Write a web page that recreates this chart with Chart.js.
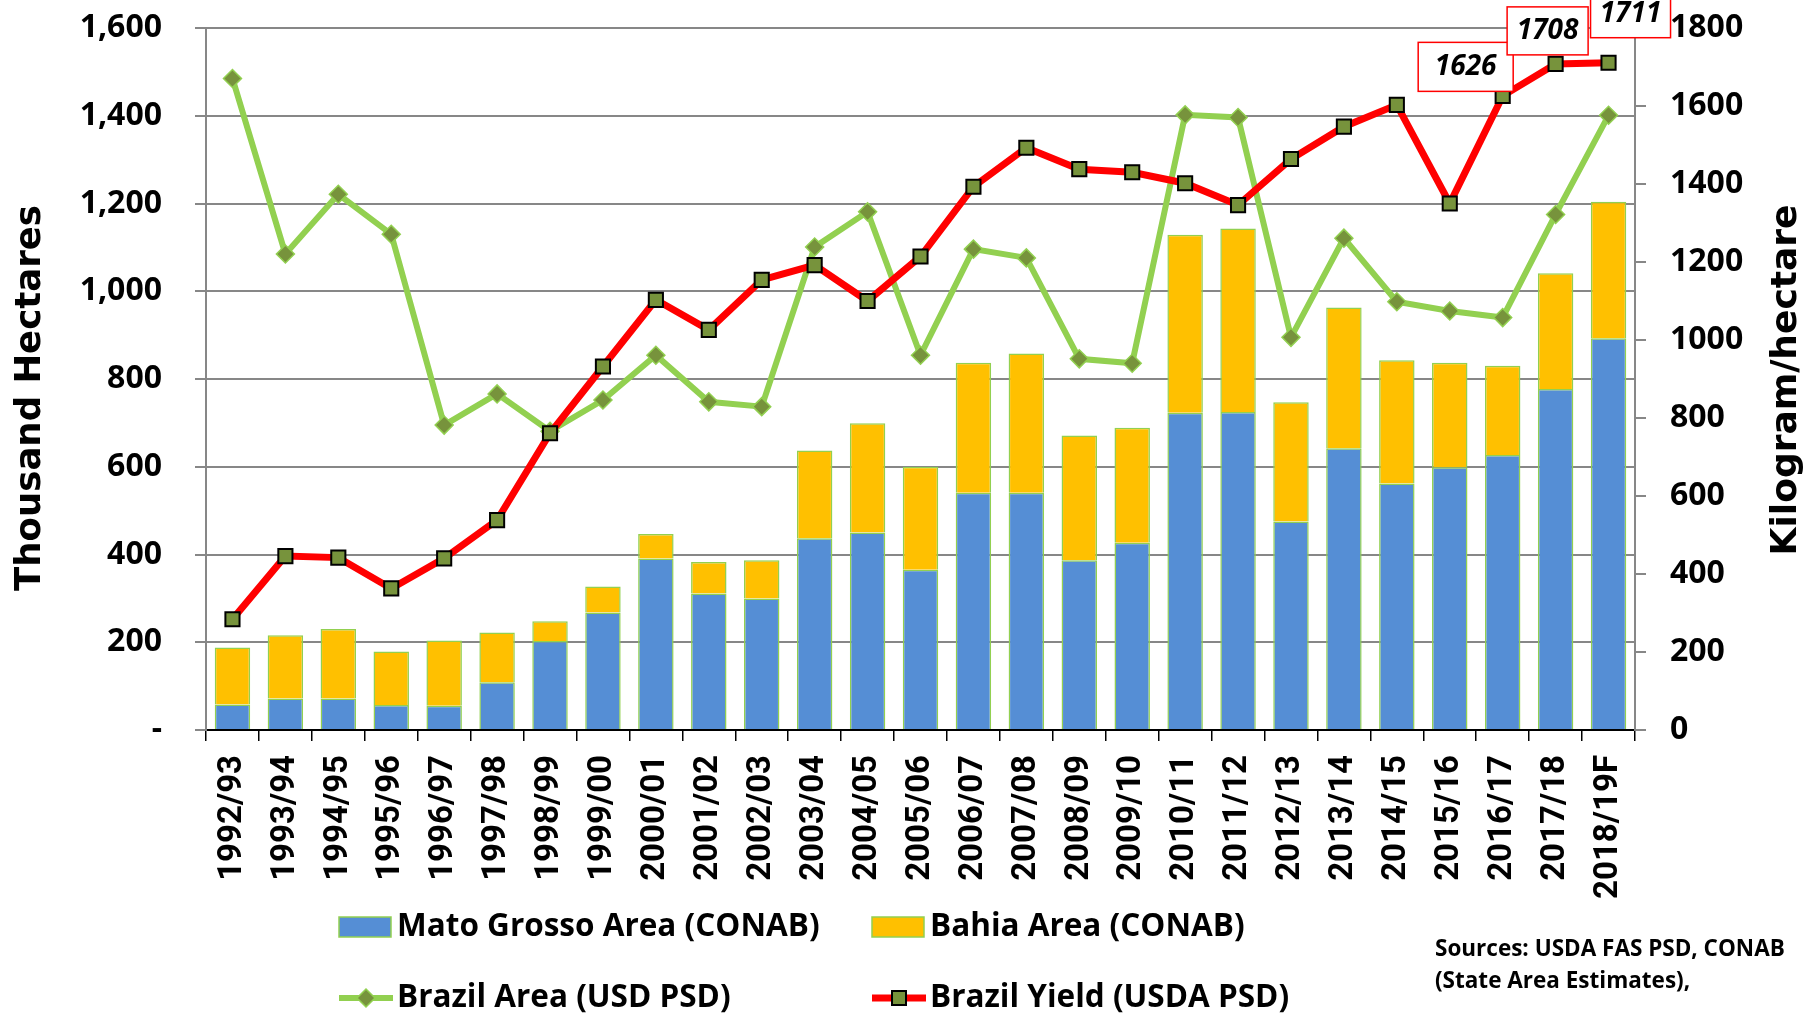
<!DOCTYPE html>
<html>
<head>
<meta charset="utf-8">
<script src="https://cdn.jsdelivr.net/npm/chart.js@4.4.1/dist/chart.umd.min.js"></script>
<style>
  html, body { margin: 0; padding: 0; background: #fff; }
  #wrap { width: 1812px; height: 1015px; position: relative; }
</style>
</head>
<body>
<div id="wrap"><canvas id="chart1"></canvas></div>
<script>
var seasons = ['1992/93', '1993/94', '1994/95', '1995/96', '1996/97', '1997/98', '1998/99', '1999/00',
  '2000/01', '2001/02', '2002/03', '2003/04', '2004/05', '2005/06', '2006/07', '2007/08', '2008/09',
  '2009/10', '2010/11', '2011/12', '2012/13', '2013/14', '2014/15', '2015/16', '2016/17', '2017/18', '2018/19F'];

// thousand hectares
var matoGrosso = [58, 72, 72, 57, 55, 109, 203, 268, 391, 311, 300, 437, 450, 365, 541, 541, 387, 427, 723, 725, 475, 642, 562, 599, 627, 777, 893];
var bahia = [130, 144, 158, 122, 149, 113, 45, 59, 56, 72, 87, 200, 249, 235, 296, 317, 284, 262, 406, 418, 272, 321, 281, 238, 203, 264, 311];
var brazilArea = [1485, 1085, 1221, 1130, 695, 766, 681, 752, 854, 748, 737, 1101, 1181, 854, 1096, 1076, 846, 836, 1402, 1396, 895, 1121, 976, 955, 940, 1175, 1401];

// kilogram / hectare
var brazilYield = [284, 446, 442, 363, 440, 538, 761, 932, 1103, 1026, 1154, 1192, 1100, 1214, 1393, 1493, 1438, 1430, 1402, 1346, 1464, 1547, 1603, 1350, 1626, 1708, 1711];

var areaTicks = [0, 200, 400, 600, 800, 1000, 1200, 1400, 1600];
var yieldTicks = [0, 200, 400, 600, 800, 1000, 1200, 1400, 1600, 1800];

var calloutIdx = [24, 25, 26];

var GRID = '#878787';
var LABEL_FONT = '"Open Sans", "DejaVu Sans", sans-serif';

// keep the value axes from pushing the plot down for their end labels
function fixVertical(width) {
  return function (s) {
    s.width = width;
    s.paddingTop = 10;
    s.paddingBottom = 10;
  };
}

// titles, legend, source note and yield call-outs
var extras = {
  id: 'extras',
  afterDraw: function (chart) {
    var c = chart.ctx;
    var ds = chart.data.datasets;
    c.save();
    c.fillStyle = '#000';
    c.textBaseline = 'middle';
    c.textAlign = 'center';

    c.font = 'bold 35.5px "DejaVu Sans", sans-serif';
    c.save(); c.translate(31, 398); c.rotate(-Math.PI / 2); c.fillText('Thousand Hectares', 0, 0); c.restore();
    c.font = 'bold 36px "DejaVu Sans", sans-serif';
    c.save(); c.translate(1787, 380); c.rotate(-Math.PI / 2); c.fillText('Kilogram/hectare', 0, 0); c.restore();

    // boxed values on the last yield points
    var meta = chart.getDatasetMeta(0);
    var offs = [[-37, -29, 95, 49], [-8, -33, 81, 48], [22, -49, 80, 48]];
    c.font = 'italic bold 28px ' + LABEL_FONT;
    calloutIdx.forEach(function (i, k) {
      var p = meta.data[i];
      var cx = p.x + offs[k][0], cy = p.y + offs[k][1];
      var w = offs[k][2], h = offs[k][3];
      c.fillStyle = '#fff';
      c.fillRect(cx - w / 2, cy - h / 2, w, h);
      c.strokeStyle = '#FF0000';
      c.lineWidth = 1.5;
      c.strokeRect(cx - w / 2, cy - h / 2, w, h);
      c.fillStyle = '#000';
      c.fillText(String(brazilYield[i]), cx, cy);
    });

    // legend, two rows by two columns
    c.font = 'bold 31.5px ' + LABEL_FONT;
    c.textAlign = 'left';
    var cols = [339, 872], rows = [927, 998];
    var items = [
      { d: ds[2], col: 0, row: 0 },
      { d: ds[3], col: 1, row: 0 },
      { d: ds[1], col: 0, row: 1 },
      { d: ds[0], col: 1, row: 1 }
    ];
    items.forEach(function (it) {
      var x = cols[it.col], y = rows[it.row], d = it.d;
      if (d.type === 'line') {
        c.strokeStyle = d.borderColor;
        c.lineWidth = d.borderWidth;
        c.beginPath(); c.moveTo(x, y); c.lineTo(x + 54, y); c.stroke();
        c.fillStyle = d.pointBackgroundColor;
        c.strokeStyle = d.pointBorderColor;
        c.lineWidth = d.pointBorderWidth;
        c.beginPath();
        if (d.pointStyle === 'rect') {
          c.rect(x + 20, y - 7, 14, 14);
        } else {
          c.moveTo(x + 27, y - 9); c.lineTo(x + 36, y); c.lineTo(x + 27, y + 9); c.lineTo(x + 18, y); c.closePath();
        }
        c.fill(); c.stroke();
      } else {
        c.fillStyle = d.backgroundColor;
        c.fillRect(x, y - 10, 52, 20);
        c.strokeStyle = d.borderColor;
        c.lineWidth = 1.5;
        c.strokeRect(x, y - 10, 52, 20);
      }
      c.fillStyle = '#000';
      c.fillText(d.label, x + 58, y);
    });

    c.font = 'bold 22.5px ' + LABEL_FONT;
    c.fillText('Sources: USDA FAS PSD, CONAB', 1435, 950);
    c.fillText('(State Area Estimates),', 1435, 982);
    c.restore();
  }
};

var ctx = document.getElementById('chart1');

var data = {
  labels: seasons,
  datasets: [{
    type: 'line',
    label: 'Brazil Yield (USDA PSD)',
    data: brazilYield,
    yAxisID: 'y2',
    borderColor: '#FF0000',
    borderWidth: 7,
    pointStyle: 'rect',
    pointRadius: 10,
    pointBackgroundColor: '#77933C',
    pointBorderColor: '#000000',
    pointBorderWidth: 2,
    tension: 0,
    order: 0
  }, {
    type: 'line',
    label: 'Brazil Area (USD PSD)',
    data: brazilArea,
    yAxisID: 'y',
    stack: 'usda',
    borderColor: '#92D050',
    borderWidth: 6,
    pointStyle: 'rectRot',
    pointRadius: 9,
    pointBackgroundColor: '#77933C',
    pointBorderColor: '#92D050',
    pointBorderWidth: 1.5,
    tension: 0,
    order: 1
  }, {
    label: 'Mato Grosso Area (CONAB)',
    data: matoGrosso,
    yAxisID: 'y',
    stack: 'conab',
    backgroundColor: '#558ED5',
    borderColor: '#92D050',
    borderWidth: 1.5,
    order: 2
  }, {
    label: 'Bahia Area (CONAB)',
    data: bahia,
    yAxisID: 'y',
    stack: 'conab',
    backgroundColor: '#FFC000',
    borderColor: '#92D050',
    borderWidth: 1.5,
    order: 2
  }]
};

var options = {
  responsive: true,
  maintainAspectRatio: false,
  animation: false,
  layout: { padding: { top: 28, left: 0, right: 0, bottom: 0 } },
  datasets: { bar: { categoryPercentage: 1, barPercentage: 0.67 } },
  plugins: { legend: { display: false }, tooltip: { enabled: false } },
  scales: {
    x: {
      stacked: true,
      afterFit: function (s) { s.height = 285; },
      grid: { offset: true, drawOnChartArea: false, color: '#000', lineWidth: 1.5, tickLength: 11 },
      border: { color: '#000', width: 2 },
      ticks: {
        autoSkip: false, minRotation: 90, maxRotation: 90, padding: 14, color: '#000',
        font: { family: 'Roboto, "DejaVu Sans", sans-serif', size: 33, weight: 'bold' }
      }
    },
    y: {
      stacked: true,
      position: 'left',
      min: 0,
      max: 1600,
      afterFit: fixVertical(206),
      afterBuildTicks: function (s) { s.ticks = areaTicks.map(function (v) { return { value: v }; }); },
      grid: { color: GRID, lineWidth: 2, tickLength: 11 },
      border: { color: GRID, width: 2 },
      ticks: {
        padding: 33, color: '#000',
        font: { family: LABEL_FONT, size: 32, weight: 'bold' },
        callback: function (v) { return v === 0 ? '-' : v.toLocaleString('en-US'); }
      }
    },
    y2: {
      position: 'right',
      min: 0,
      max: 1800,
      afterFit: fixVertical(177),
      afterBuildTicks: function (s) { s.ticks = yieldTicks.map(function (v) { return { value: v }; }); },
      grid: { drawOnChartArea: false, color: GRID, lineWidth: 2, tickLength: 11 },
      border: { color: GRID, width: 2 },
      ticks: {
        padding: 24, color: '#000',
        font: { family: LABEL_FONT, size: 32, weight: 'bold' },
        callback: function (v) { return String(v); }
      }
    }
  }
};

var chart1 = new Chart(ctx, {
  type: 'bar',
  data: data,
  options: options,
  plugins: [extras]
});
</script>
</body>
</html>
